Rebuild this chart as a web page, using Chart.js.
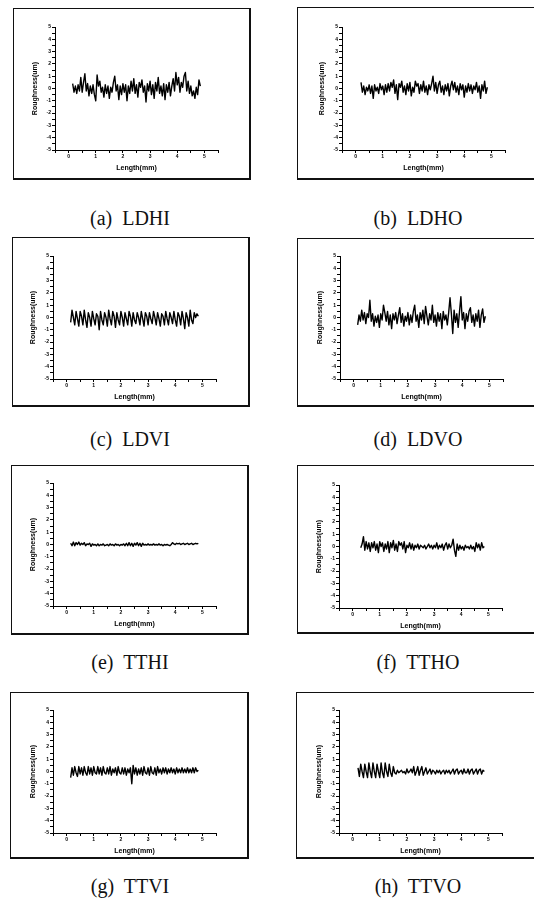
<!DOCTYPE html>
<html lang="en">
<head>
    <meta charset="UTF-8">
    <title>Surface roughness profiles</title>
    <script src="https://cdn.jsdelivr.net/npm/chart.js"></script>
    <style>
        body {
            margin: 0;
            width: 534px;
            height: 904px;
            background: #fff;
            position: relative;
            overflow: hidden;
        }

        .frame {
            position: absolute;
            box-sizing: border-box;
            border: 1px solid #111;
            border-bottom-width: 2px;
            border-right-width: 2px;
        }

        .frame.cut {
            border-right: none;
        }

        canvas {
            position: absolute;
        }

        .caption {
            position: absolute;
            width: 200px;
            text-align: center;
            font-family: "Liberation Serif", "Times New Roman", serif;
            font-size: 20px;
            line-height: 24px;
            color: #111;
            white-space: pre;
        }
    </style>
</head>
<body>
<script>
    // axis ranges and labels shared by every panel
    const xRange = [-0.5, 5.5];
    const yRange = [-5, 5];
    const xTitle = 'Length(mm)';
    const yTitle = 'Roughness(um)';
    const sampleStep = 0.05;

    const panelLetters = ['a', 'b', 'c', 'd', 'e', 'f', 'g', 'h'];
    const panelNames = ['LDHI', 'LDHO', 'LDVI', 'LDVO', 'TTHI', 'TTHO', 'TTVI', 'TTVO'];
    const profileStarts = [0.15, 0.2, 0.15, 0.15, 0.15, 0.3, 0.15, 0.2];

    // roughness (um), every 0.05 mm
    const ldhi = [
        0.4, -0.3, 0.2, -0.4, 0.3, -0.2, 0.9, -0.3, 0.5, 1.2,
        -0.2, 0.4, -0.6, 0.2, -0.4, 0.3, -0.5, -1.0, 1.1, 0.2,
        0.6, -0.3, 0.1, -0.7, 0.3, -0.4, 0.2, -0.8, 0.1, -0.3,
        0.5, 1.0, -0.2, 0.3, -0.9, 0.2, -0.5, 0.4, -0.3, 0.3,
        -1.0, 0.2, -0.4, 0.6, -0.2, 0.8, -0.4, 0.3, -0.7, 0.5,
        0.1, 0.7, -0.3, 0.2, -1.1, 0.4, -0.2, 0.6, -0.5, 0.3,
        -0.8, 0.5, -0.2, 0.9, -0.4, 0.2, -0.6, 0.4, -0.9, 0.3,
        -0.3, 0.5, -0.6, 0.2, 0.8, -0.2, 1.3, 0.3, 0.9, -0.3,
        0.5, 0.1, 1.0, 1.3, -0.2, 0.6, -0.4, 0.2, -0.6, -0.2,
        -0.8, 0.1, -0.5, 0.7, 0.2
    ];
    const ldho = [
        0.5, -0.3, 0.2, -0.5, 0.1, -0.2, 0.3, -0.4, 0.2, -0.8,
        0.3, -0.2, 0.1, -0.4, 0.4, -0.1, 0.2, -0.5, 0.3, -0.3,
        0.4, -0.2, 0.5, 0.1, 0.7, -0.4, 0.3, -0.9, 0.4, 0.1,
        0.6, -0.3, 0.2, -0.5, 0.4, -0.2, 0.5, -0.6, 0.1, -0.3,
        0.6, 0.2, 0.4, -0.4, 0.3, -0.2, 0.6, -0.3, 0.2, -0.5,
        0.3, -0.1, 0.4, 1.0, -0.2, 0.5, -0.4, 0.3, 0.6, -0.3,
        0.2, -0.5, 0.3, -0.2, 0.4, -0.6, 0.2, 0.6, -0.1, 0.5,
        -0.3, 0.2, -0.5, 0.4, -0.1, 0.3, -0.7, 0.2, -0.3, 0.4,
        -0.2, 0.3, -0.4, 0.2, -0.1, 0.5, -0.3, 0.2, -0.8, 0.3,
        -0.2, 0.6, -0.4, 0.1
    ];
    const ldvi = [
        -0.4, 0.6, 0.0, -0.6, 0.5, -0.1, -0.7, 0.5, 0.1, -0.6,
        0.6, -0.2, -0.8, 0.4, 0.0, -0.7, 0.5, -0.1, -0.6, 0.3,
        0.1, -1.0, 0.5, -0.2, -0.6, 0.4, 0.0, -0.7, 0.6, -0.1,
        -0.6, 0.5, 0.1, -0.8, 0.4, -0.2, -0.6, 0.5, 0.0, -0.7,
        0.4, -0.1, -0.6, 0.5, 0.1, -0.7, 0.4, -0.2, -0.5, 0.4,
        0.0, -0.6, 0.5, -0.1, -0.7, 0.4, 0.1, -0.6, 0.4, -0.1,
        -0.5, 0.5, 0.0, -0.6, 0.4, -0.1, -0.7, 0.3, 0.1, -0.6,
        0.5, -0.1, -0.6, 0.4, 0.0, -0.5, 0.5, -0.2, -0.7, 0.4,
        0.1, -0.6, 0.5, -0.1, -0.9, 0.4, 0.0, -0.7, 0.6, -0.2,
        -0.5, 0.4, 0.0, 0.3, 0.1
    ];
    const ldvo = [
        -0.6, 0.2, -0.3, 0.6, -0.2, 0.4, -0.5, 0.3, 0.0, 1.4,
        -0.3, 0.3, -0.7, 0.1, -0.4, 0.2, -0.8, 0.3, -0.2, 1.0,
        0.4, -0.3, 0.5, -0.6, 0.2, -0.9, 0.3, -0.2, 0.4, -0.5,
        0.2, 0.8, -0.4, 0.3, -0.7, 0.1, -0.3, 0.4, -0.6, 0.2,
        -0.4, 0.5, 1.0, -0.3, 0.2, -0.8, 0.4, -0.2, 0.6, -0.5,
        0.9, 0.1, -0.6, 0.3, -0.2, 1.0, -0.4, 0.2, -0.7, 0.4,
        -0.3, 0.3, -0.9, 0.5, -0.2, 0.2, -0.6, 0.4, 1.6, 0.3,
        -1.3, 0.6, -0.4, 0.3, -0.8, 0.5, 1.7, -0.2, 0.4, -0.9,
        0.3, -0.3, 0.5, 0.8, -0.4, 0.2, -0.7, 0.3, -0.3, 0.6,
        -0.8, 0.2, 0.7, -0.4, 0.1
    ];
    const tthi = [
        0.1, -0.1, 0.2, -0.1, 0.15, 0.0, 0.2, -0.05, 0.1, 0.0,
        0.15, -0.1, 0.05, 0.0, 0.1, -0.15, 0.05, -0.05, 0.0, -0.1,
        0.05, -0.1, 0.0, -0.05, 0.05, -0.1, -0.05, 0.0, -0.1, 0.05,
        -0.05, 0.0, -0.1, 0.05, -0.05, 0.0, -0.1, 0.0, -0.05, 0.05,
        -0.1, 0.1, -0.1, 0.15, -0.1, 0.1, -0.15, 0.1, -0.05, 0.15,
        -0.1, 0.1, -0.15, 0.1, -0.05, 0.0, -0.05, 0.05, -0.05, 0.0,
        -0.05, 0.05, -0.05, 0.0, -0.05, 0.05, -0.05, 0.0, -0.1, 0.0,
        -0.05, 0.0, -0.05, -0.1, 0.0, 0.15, 0.05, 0.0, 0.1, 0.05,
        0.1, 0.0, 0.05, 0.1, 0.0, 0.05, 0.1, 0.0, 0.05, 0.1,
        0.0, 0.05, 0.1, 0.05, 0.1
    ];
    const ttho = [
        -0.1, 0.2, 0.8, -0.3, 0.4, -0.2, 0.3, -0.4, 0.3, -0.1,
        0.4, -0.3, 0.2, -0.5, 0.4, 0.0, 0.3, -0.4, 0.2, -0.2,
        0.4, -0.5, 0.3, -0.1, 0.5, -0.3, 0.2, -0.4, 0.4, 0.1,
        0.3, -0.2, 0.4, -0.5, 0.1, -0.1, 0.3, -0.2, 0.2, -0.3,
        0.1, -0.1, 0.2, -0.2, 0.1, 0.0, -0.1, 0.1, -0.2, 0.0,
        0.2, -0.1, 0.1, -0.2, 0.1, -0.1, 0.3, -0.2, 0.1, -0.1,
        0.2, -0.3, 0.1, 0.3, -0.2, 0.2, -0.1, 0.1, 0.6, -0.3,
        -0.8, 0.2, -0.3, 0.1, -0.2, 0.0, -0.3, 0.1, -0.1, 0.0,
        -0.2, 0.1, -0.2, 0.0, -0.4, 0.3, -0.1, 0.2, -0.3, 0.3,
        -0.1, 0.0
    ];
    const ttvi = [
        -0.5, 0.3, -0.3, 0.4, -0.1, -0.4, 0.4, -0.2, 0.3, -0.3,
        0.4, -0.1, -0.3, 0.4, -0.2, 0.3, -0.3, 0.4, -0.1, -0.2,
        0.4, -0.2, 0.3, -0.3, 0.4, -0.1, -0.2, 0.3, -0.2, 0.4,
        -0.3, 0.2, -0.1, 0.3, -0.3, 0.4, -0.1, -0.2, 0.3, -0.2,
        0.3, -0.3, 0.2, -0.1, 0.3, -1.0, 0.5, -0.2, 0.3, -0.3,
        0.2, -0.2, 0.3, -0.3, 0.4, -0.1, -0.2, 0.3, -0.3, 0.4,
        -0.1, -0.2, 0.3, -0.3, 0.4, -0.1, 0.2, -0.2, 0.3, -0.1,
        0.3, -0.2, 0.2, -0.1, 0.3, -0.1, 0.2, -0.2, 0.3, -0.1,
        0.2, -0.1, 0.3, -0.1, 0.2, -0.1, 0.3, -0.1, 0.2, -0.1,
        0.3, -0.1, 0.3, 0.0, 0.1
    ];
    const ttvo = [
        0.3, -0.4, 0.6, 0.0, -0.5, 0.6, 0.0, -0.5, 0.7, 0.0,
        -0.5, 0.7, 0.0, -0.5, 0.6, 0.0, -0.5, 0.7, -0.1, -0.5,
        0.7, 0.0, -0.4, 0.6, -0.1, -0.4, 0.4, -0.1, -0.2, 0.1,
        -0.1, 0.0, 0.1, -0.1, 0.0, -0.2, 0.2, -0.1, 0.0, 0.2,
        -0.1, 0.4, -0.3, 0.0, 0.4, -0.3, 0.1, 0.4, -0.3, 0.0,
        0.3, -0.2, 0.0, 0.2, -0.2, 0.1, 0.0, -0.2, 0.1, -0.1,
        0.1, -0.2, 0.0, 0.1, -0.2, 0.1, -0.1, 0.1, -0.2, 0.0,
        0.2, -0.2, 0.1, 0.2, -0.2, 0.0, 0.1, -0.2, 0.2, -0.1,
        -0.1, 0.2, -0.2, 0.1, 0.2, -0.2, 0.0, 0.2, -0.2, 0.1,
        0.2, -0.2, 0.1, 0.0
    ];
    const profiles = [ldhi, ldho, ldvi, ldvo, tthi, ttho, ttvi, ttvo];

    // page layout: outer frame box and where each plot's axes meet
    const frames = [
        [13, 8, 238, 172], [297, 7, 237, 173],
        [12, 237, 238, 170], [297, 238, 237, 169],
        [11, 465, 238, 170], [297, 465, 237, 169],
        [10, 692, 239, 167], [296, 692, 238, 167]
    ];
    const axisOrigins = [
        [55, 27], [342, 27],
        [53, 256], [340, 256],
        [53, 483], [339, 485],
        [53, 710], [339, 710]
    ];
    const captionY = [206, 206, 427, 427, 650, 650, 874, 874];

    const INSET_L = 43, INSET_T = 19, AXIS_W = 163, AXIS_H = 123, XAXIS_H = 24;
    const CANVAS_W = 238, CANVAS_H = INSET_T + AXIS_H + XAXIS_H + 3;

    const tickFont = { family: 'Liberation Sans', size: 5, weight: 'bold' };
    const titleFont = { family: 'Liberation Sans', size: 7, weight: 'bold' };

    function integerOnly(v) {
        return Number.isInteger(v) ? v : '';
    }

    function drawPanel(i) {
        const frame = document.createElement('div');
        frame.className = 'frame' + (i % 2 ? ' cut' : '');
        frame.style.left = frames[i][0] + 'px';
        frame.style.top = frames[i][1] + 'px';
        frame.style.width = frames[i][2] + 'px';
        frame.style.height = frames[i][3] + 'px';
        document.body.appendChild(frame);

        const canvas = document.createElement('canvas');
        canvas.width = CANVAS_W;
        canvas.height = CANVAS_H;
        canvas.style.left = (axisOrigins[i][0] - INSET_L) + 'px';
        canvas.style.top = (axisOrigins[i][1] - INSET_T) + 'px';
        document.body.appendChild(canvas);

        const caption = document.createElement('div');
        caption.className = 'caption';
        caption.textContent = '(' + panelLetters[i] + ')  ' + panelNames[i];
        caption.style.left = ((i % 2 ? 418 : 130) - 100) + 'px';
        caption.style.top = captionY[i] + 'px';
        document.body.appendChild(caption);

        const start = profileStarts[i];
        const points = profiles[i].map((y, k) => ({ x: +(start + k * sampleStep).toFixed(2), y: y }));

        new Chart(canvas, {
            type: 'line',
            data: {
                datasets: [{
                    label: panelNames[i],
                    data: points,
                    borderColor: '#000',
                    borderWidth: 1.4,
                    borderJoinStyle: 'round',
                    pointRadius: 0,
                    tension: 0,
                    fill: false
                }]
            },
            options: {
                responsive: false,
                animation: false,
                events: [],
                layout: {
                    padding: { left: 16, top: INSET_T, right: CANVAS_W - INSET_L - AXIS_W, bottom: 3 }
                },
                plugins: {
                    legend: { display: false },
                    tooltip: { enabled: false }
                },
                scales: {
                    x: {
                        type: 'linear',
                        min: xRange[0],
                        max: xRange[1],
                        afterFit: s => { s.height = XAXIS_H; },
                        ticks: {
                            stepSize: 0.5,
                            autoSkip: false,
                            maxRotation: 0,
                            padding: 1,
                            color: '#000',
                            font: tickFont,
                            callback: integerOnly
                        },
                        grid: { drawOnChartArea: false, tickLength: 3, color: '#000' },
                        border: { color: '#000', width: 1 },
                        title: { display: true, text: xTitle, color: '#000', font: titleFont, padding: { top: 0, bottom: 2 } }
                    },
                    y: {
                        min: yRange[0],
                        max: yRange[1],
                        afterFit: s => { s.width = INSET_L - 16; },
                        ticks: {
                            stepSize: 0.5,
                            autoSkip: false,
                            padding: 1,
                            color: '#000',
                            font: tickFont,
                            callback: integerOnly
                        },
                        grid: { drawOnChartArea: false, tickLength: 3, color: '#000' },
                        border: { color: '#000', width: 1 },
                        title: { display: true, text: yTitle, color: '#000', font: titleFont, padding: { top: 3, bottom: 0 } }
                    }
                }
            }
        });
    }

    for (let i = 0; i < profiles.length; i++) drawPanel(i);
</script>
</body>
</html>
